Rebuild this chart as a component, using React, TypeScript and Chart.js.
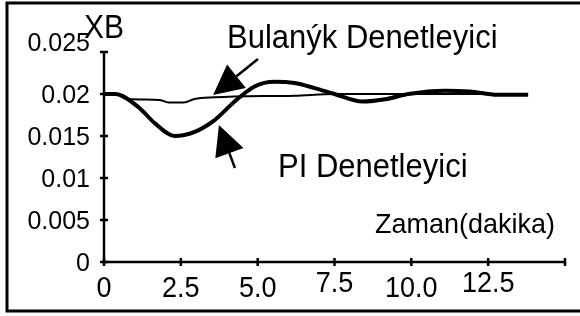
import React, { useEffect, useRef } from "react";
import { Chart, registerables } from "chart.js";

Chart.register(...registerables);

// ---- data ----
const piTimes = [0, 0.36, 1.1, 1.66, 2.3, 2.95, 3.6, 4.25, 4.9, 5.55, 6.2, 6.85, 7.5, 8.4, 9.2, 9.9, 11.1, 11.9, 12.8, 13.8];
const piValues = [0.02, 0.02, 0.0185, 0.0165, 0.015, 0.0155, 0.0169, 0.0191, 0.0209, 0.02146, 0.0213, 0.0207, 0.02, 0.0191, 0.0194, 0.02, 0.0204, 0.0203, 0.0199, 0.0199];
const fuzzyTimes = [0, 0.36, 0.78, 1.8, 2.1, 2.6, 2.95, 3.6, 4.25, 6.2, 7.5, 10, 12.5, 13.8];
const fuzzyValues = [0.02, 0.02, 0.0194, 0.0193, 0.019, 0.019, 0.0194, 0.0196, 0.0197, 0.0198, 0.02, 0.02, 0.02, 0.02];

const xTickValues = [0, 2.5, 5, 7.5, 10, 12.5, 15];
const xTickLabels = ["0", "2.5", "5.0", "7.5", "10.0", "12.5", ""];
const yTickValues = [0, 0.005, 0.01, 0.015, 0.02, 0.025];
const yTickLabels = ["0", "0.005", "0.01", "0.015", "0.02", "0.025"];

const yAxisTitle = "XB";
const xAxisTitle = "Zaman(dakika)";
const fuzzyLabel = "Bulanýk Denetleyici";
const piLabel = "PI Denetleyici";

// arrows: [tailT, tailV, tipT, tipV]
const fuzzyArrow = [5.01, 0.02417, 3.55, 0.01988];
const piArrow = [4.26, 0.01119, 3.74, 0.01631];

// ---- styles ----
const FONT = "'Liberation Sans', Arial, sans-serif";
const xLabelBaselineOffsets = [0, 0, 0, -5, 0, -5, 0];
const yLabelOffsets = [0, 0, 0, 0, 0, -10];

export default function App() {
  const ref = useRef<HTMLCanvasElement | null>(null);

  useEffect(() => {
    if (!ref.current) return;
    const toXY = (ts: number[], vs: number[]) => ts.map((t, i) => ({ x: t, y: vs[i] }));

    const overlay = {
      id: "overlay",
      afterDraw(chart: any) {
        const ctx = chart.ctx as CanvasRenderingContext2D;
        const xs = chart.scales.x;
        const ys = chart.scales.y;
        const x0 = xs.getPixelForValue(0);
        const y0 = ys.getPixelForValue(0);
        const xEnd = xs.getPixelForValue(15);
        const yTop = ys.getPixelForValue(0.025);
        const stretchText = (txt: string, x: number, y: number, sy: number) => {
          ctx.save();
          ctx.translate(x, y);
          ctx.scale(1, sy);
          ctx.fillText(txt, 0, 0);
          ctx.restore();
        };
        ctx.save();
        ctx.strokeStyle = "#000";
        ctx.fillStyle = "#000";
        ctx.lineCap = "butt";
        // axes
        ctx.lineWidth = 2.5;
        ctx.beginPath();
        ctx.moveTo(x0, yTop);
        ctx.lineTo(x0, y0);
        ctx.lineTo(xEnd, y0);
        ctx.stroke();
        // ticks
        ctx.beginPath();
        yTickValues.forEach((v) => {
          const p = ys.getPixelForValue(v);
          ctx.moveTo(x0 - 4, p);
          ctx.lineTo(x0 + 4, p);
        });
        xTickValues.forEach((v) => {
          const p = xs.getPixelForValue(v);
          ctx.moveTo(p, y0 - 4);
          ctx.lineTo(p, y0 + 4);
        });
        ctx.stroke();
        // tick labels
        ctx.font = `25px ${FONT}`;
        ctx.textAlign = "right";
        ctx.textBaseline = "alphabetic";
        yTickValues.forEach((v, i) => {
          stretchText(yTickLabels[i], x0 - 14, ys.getPixelForValue(v) + 9 + yLabelOffsets[i], 1.0);
        });
        ctx.font = `27px ${FONT}`;
        ctx.textAlign = "center";
        xTickValues.forEach((v, i) => {
          stretchText(xTickLabels[i], xs.getPixelForValue(v), y0 + 35 + xLabelBaselineOffsets[i], 1.1);
        });
        // titles & annotations
        ctx.textAlign = "left";
        ctx.font = `30px ${FONT}`;
        stretchText(yAxisTitle, x0 - 20, yTop - 14, 1.08);
        ctx.font = `31px ${FONT}`;
        stretchText(fuzzyLabel, 227, 48, 1.05);
        stretchText(piLabel, 278, 177, 1.05);
        ctx.font = `27px ${FONT}`;
        stretchText(xAxisTitle, 375, 233, 1.05);
        // arrows
        const drawArrow = (a: number[]) => {
          const tx = xs.getPixelForValue(a[0]);
          const ty = ys.getPixelForValue(a[1]);
          const hx = xs.getPixelForValue(a[2]);
          const hy = ys.getPixelForValue(a[3]);
          const dx = hx - tx;
          const dy = hy - ty;
          const len = Math.hypot(dx, dy);
          const ux = dx / len;
          const uy = dy / len;
          const headLen = 30;
          const half = 15;
          const bx = hx - ux * headLen;
          const by = hy - uy * headLen;
          ctx.lineWidth = 2.5;
          ctx.beginPath();
          ctx.moveTo(tx, ty);
          ctx.lineTo(bx, by);
          ctx.stroke();
          ctx.beginPath();
          ctx.moveTo(hx, hy);
          ctx.lineTo(bx - uy * half, by + ux * half);
          ctx.lineTo(bx + uy * half, by - ux * half);
          ctx.closePath();
          ctx.fill();
        };
        drawArrow(fuzzyArrow);
        drawArrow(piArrow);
        // frame
        ctx.lineWidth = 3;
        ctx.beginPath();
        ctx.moveTo(590, 3);
        ctx.lineTo(7, 3);
        ctx.lineTo(7, 311);
        ctx.lineTo(590, 311);
        ctx.stroke();
        ctx.restore();
      },
    };

    const chart = new Chart(ref.current, {
      type: "line",
      data: {
        datasets: [
          {
            label: fuzzyLabel,
            data: toXY(fuzzyTimes, fuzzyValues),
            borderColor: "#000",
            borderWidth: 2,
            pointRadius: 0,
            cubicInterpolationMode: "monotone",
            fill: false,
          },
          {
            label: piLabel,
            data: toXY(piTimes, piValues),
            borderColor: "#000",
            borderWidth: 4,
            pointRadius: 0,
            cubicInterpolationMode: "monotone",
            fill: false,
          },
        ],
      },
      options: {
        responsive: false,
        animation: false,
        events: [],
        layout: { padding: { left: 104, right: 15, top: 52, bottom: 54 } },
        plugins: { legend: { display: false }, tooltip: { enabled: false }, title: { display: false } },
        scales: {
          x: {
            type: "linear",
            min: 0,
            max: 15,
            ticks: { display: false, stepSize: 2.5 },
            grid: { display: false },
            border: { display: false },
            afterFit: (s: any) => { s.height = 0; },
          },
          y: {
            type: "linear",
            min: 0,
            max: 0.025,
            ticks: { display: false, stepSize: 0.005 },
            grid: { display: false },
            border: { display: false },
            afterFit: (s: any) => { s.width = 0; },
          },
        },
      },
      plugins: [overlay],
    } as any);
    return () => chart.destroy();
  }, []);

  return (
    <div style={{ position: "absolute", left: 0, top: 0, width: 580, height: 316, background: "#fff" }}>
      <canvas ref={ref} width={580} height={316} style={{ display: "block" }} />
    </div>
  );
}
